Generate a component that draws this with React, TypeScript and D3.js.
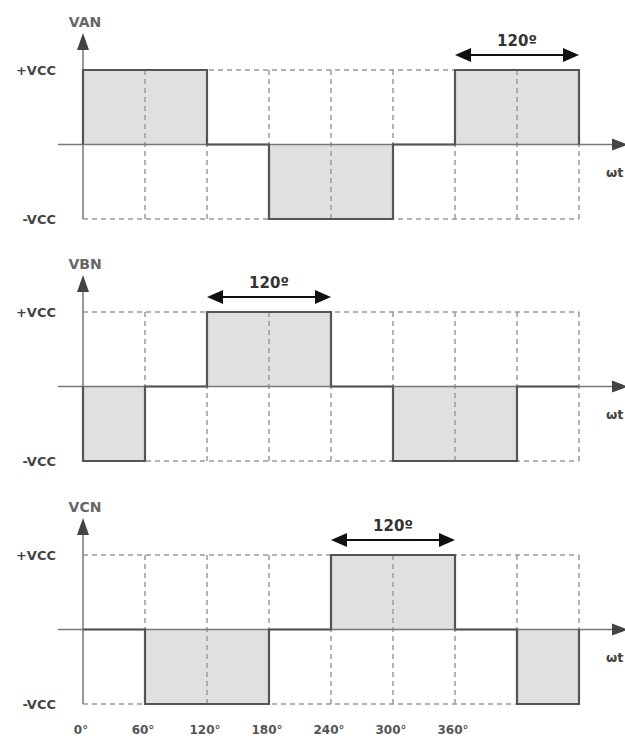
import React, { useEffect, useRef } from "react";
import * as d3 from "d3";

// phase angles (deg) at the start of each 60° step
const angles = [0, 60, 120, 180, 240, 300, 360, 420];
const tickLabels = ["0°", "60°", "120°", "180°", "240°", "300°", "360°"];

// step levels (+1 = +VCC, -1 = -VCC)
const van = [1, 1, 0, -1, -1, 0, 1, 1];
const vbn = [-1, 0, 1, 1, 0, -1, -1, 0];
const vcn = [0, -1, -1, 0, 1, 1, 0, -1];

const panelNames = ["VAN", "VBN", "VCN"];
const spanStart = [360, 120, 240]; // where the 120º marker begins

export default function App() {
  const ref = useRef<SVGSVGElement | null>(null);

  useEffect(() => {
    const width = 625;
    const height = 738;
    const svg = d3.select(ref.current).html("")
      .attr("width", width)
      .attr("height", height);

    const font = "'DejaVu Sans', Verdana, sans-serif";
    const textColor = "#444";
    const x = d3.scaleLinear().domain([0, 480]).range([83, 579]);

    const tops = [70, 312, 555];
    const series = [van, vbn, vcn];

    series.forEach((vals, p) => {
      const y = d3.scaleLinear().domain([-1, 1]).range([tops[p] + 149, tops[p]]);
      const g = svg.append("g");

      const pts: [number, number][] = [[0, 0]];
      vals.forEach((v, i) => pts.push([angles[i], v]));
      pts.push([480, vals[vals.length - 1]]);
      pts.push([480, 0]);

      // shaded area under the step wave
      const area = d3.area<[number, number]>()
        .x(d => x(d[0]))
        .y0(y(0))
        .y1(d => y(d[1]))
        .curve(d3.curveStepAfter);
      g.append("path").attr("d", area(pts)).attr("fill", "#e0e0e0");

      // dashed grid
      const grid = g.append("g")
        .attr("stroke", "#999")
        .attr("stroke-width", 1.5)
        .attr("stroke-dasharray", "5,4")
        .attr("fill", "none");
      [1, -1].forEach(lv => {
        grid.append("line")
          .attr("x1", x(0)).attr("x2", x(480))
          .attr("y1", y(lv)).attr("y2", y(lv));
      });
      angles.slice(1).concat([480]).forEach(a => {
        grid.append("line")
          .attr("x1", x(a)).attr("x2", x(a))
          .attr("y1", y(1)).attr("y2", y(-1));
      });

      // axes
      g.append("line")
        .attr("x1", 58).attr("x2", 612)
        .attr("y1", y(0)).attr("y2", y(0))
        .attr("stroke", "#777").attr("stroke-width", 1.5);
      g.append("path")
        .attr("d", `M612,${y(0) - 6}L628,${y(0)}L612,${y(0) + 6}Z`)
        .attr("fill", "#444");
      g.append("line")
        .attr("x1", x(0)).attr("x2", x(0))
        .attr("y1", y(-1)).attr("y2", tops[p] - 22)
        .attr("stroke", "#777").attr("stroke-width", 1.5);
      g.append("path")
        .attr("d", `M${x(0) - 6},${tops[p] - 20}L${x(0)},${tops[p] - 37}L${x(0) + 6},${tops[p] - 20}Z`)
        .attr("fill", "#444");

      // waveform outline
      const line = d3.line<[number, number]>()
        .x(d => x(d[0]))
        .y(d => y(d[1]))
        .curve(d3.curveStepAfter);
      g.append("path").attr("d", line(pts))
        .attr("fill", "none").attr("stroke", "#555").attr("stroke-width", 2.2);

      // labels
      g.append("text").attr("x", x(0) + 2).attr("y", tops[p] - 43)
        .attr("text-anchor", "middle").attr("font-family", font)
        .attr("font-weight", "bold").attr("font-size", 14).attr("fill", "#666")
        .text(panelNames[p]);
      g.append("text").attr("x", 56).attr("y", y(1) + 5)
        .attr("text-anchor", "end").attr("font-family", font)
        .attr("font-weight", "bold").attr("font-size", 13).attr("fill", textColor)
        .text("+VCC");
      g.append("text").attr("x", 56).attr("y", y(-1) + 5)
        .attr("text-anchor", "end").attr("font-family", font)
        .attr("font-weight", "bold").attr("font-size", 13).attr("fill", textColor)
        .text("-VCC");
      g.append("text").attr("x", 606).attr("y", y(0) + 32)
        .attr("font-family", font)
        .attr("font-weight", "bold").attr("font-size", 13).attr("fill", textColor)
        .text("ωt");

      // 120º span marker
      const ay = tops[p] - 15;
      const a0 = x(spanStart[p]);
      const a1 = x(spanStart[p] + 120);
      g.append("line").attr("x1", a0 + 10).attr("x2", a1 - 10)
        .attr("y1", ay).attr("y2", ay)
        .attr("stroke", "#111").attr("stroke-width", 2);
      g.append("path")
        .attr("d", `M${a0},${ay}L${a0 + 16},${ay - 7}L${a0 + 16},${ay + 7}Z`)
        .attr("fill", "#111");
      g.append("path")
        .attr("d", `M${a1},${ay}L${a1 - 16},${ay - 7}L${a1 - 16},${ay + 7}Z`)
        .attr("fill", "#111");
      g.append("text").attr("x", (a0 + a1) / 2).attr("y", ay - 9)
        .attr("text-anchor", "middle").attr("font-family", font)
        .attr("font-weight", "bold").attr("font-size", 15).attr("fill", "#333")
        .text("120º");
    });

    // angle tick labels
    svg.append("g").selectAll("text")
      .data(tickLabels)
      .enter()
      .append("text")
      .attr("x", (d, i) => x(i * 60) - 2)
      .attr("y", 734)
      .attr("text-anchor", "middle")
      .attr("font-family", font)
      .attr("font-weight", "bold")
      .attr("font-size", 12)
      .attr("fill", "#555")
      .text(d => d);
  }, []);

  return <svg ref={ref} style={{ position: "absolute", left: 0, top: 0 }}></svg>;
}
